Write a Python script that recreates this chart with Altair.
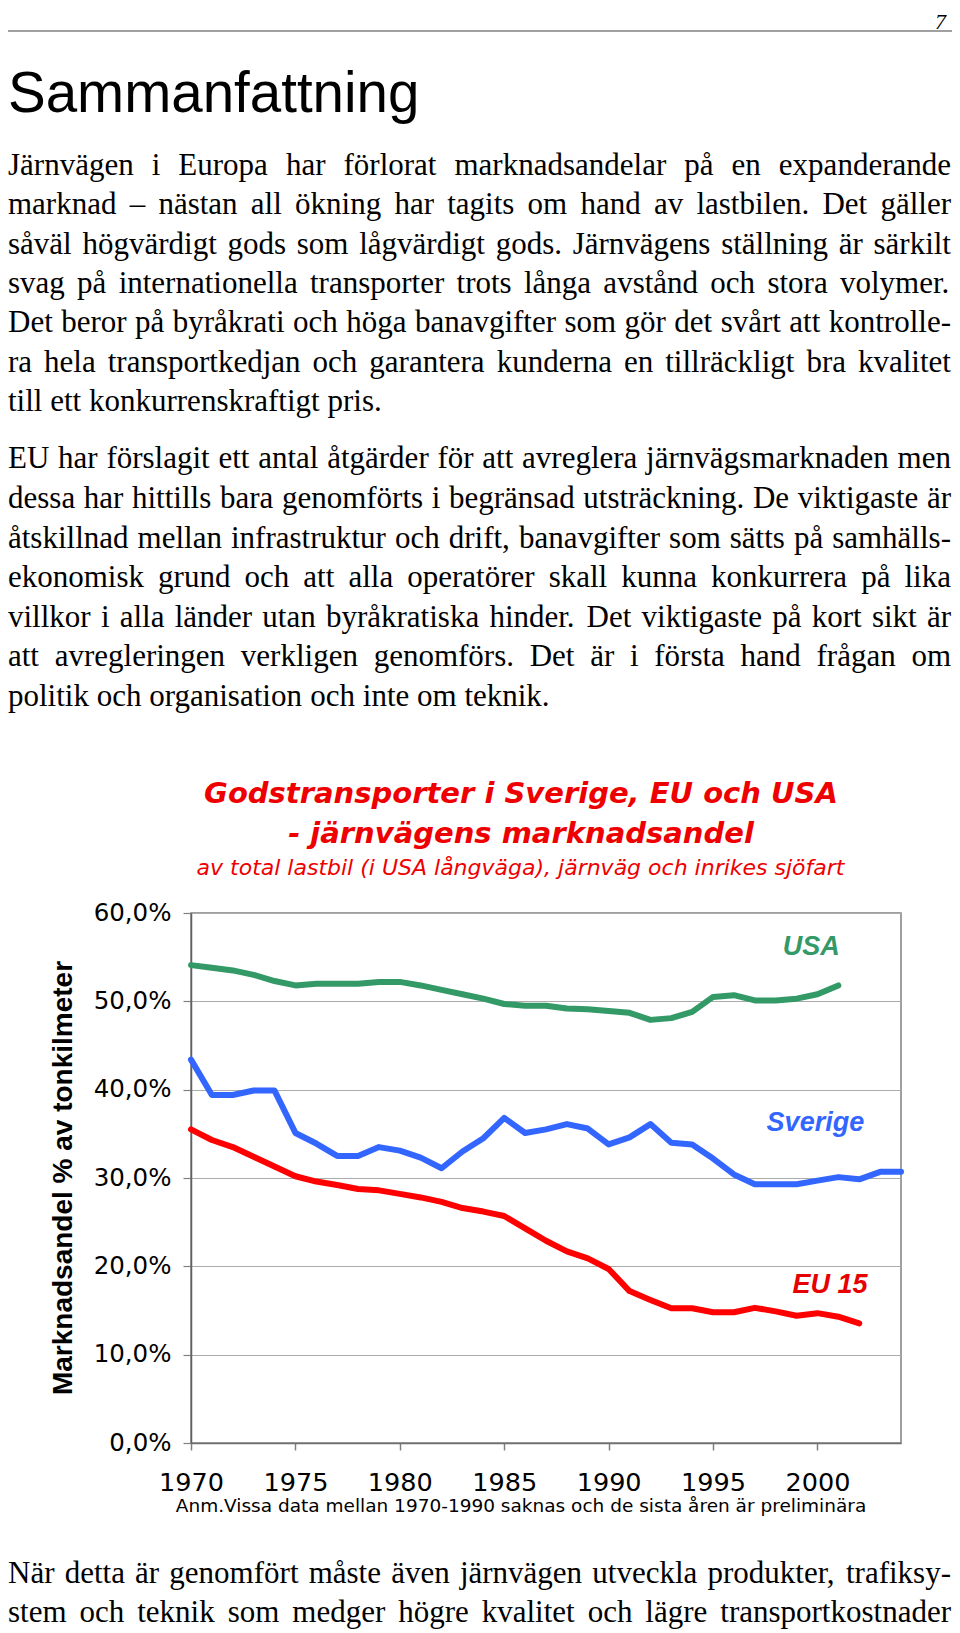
import altair as alt
import pandas as pd

# ---------------- data ----------------
years_usa = list(range(1970, 2002))
usa = [54.1, 53.8, 53.5, 53.0, 52.3, 51.8, 52.0, 52.0, 52.0, 52.2, 52.2, 51.8,
       51.3, 50.8, 50.3, 49.7, 49.5, 49.5, 49.2, 49.1, 48.9, 48.7, 47.9, 48.1,
       48.8, 50.5, 50.7, 50.1, 50.1, 50.3, 50.8, 51.8]

years_se = list(range(1970, 2005))
sverige = [43.4, 39.4, 39.4, 39.9, 39.9, 35.1, 33.9, 32.5, 32.5, 33.5, 33.1, 32.3,
           31.1, 33.0, 34.5, 36.8, 35.1, 35.5, 36.1, 35.6, 33.8, 34.6, 36.1, 34.0,
           33.8, 32.2, 30.4, 29.3, 29.3, 29.3, 29.7, 30.1, 29.85, 30.7, 30.7]

years_eu = list(range(1970, 2003))
eu15 = [35.5, 34.3, 33.5, 32.4, 31.3, 30.2, 29.6, 29.2, 28.75, 28.6, 28.2, 27.8,
        27.3, 26.6, 26.2, 25.7, 24.3, 22.9, 21.7, 20.9, 19.7, 17.2, 16.2, 15.25,
        15.25, 14.8, 14.8, 15.3, 14.9, 14.4, 14.7, 14.3, 13.55]

series_names = ["USA", "Sverige", "EU 15"]
series_colors = ["#339966", "#3366FF", "#FF0000"]
label_colors = ["#339966", "#3366FF", "#E60000"]
label_years = [1999.7, 1999.9, 2000.6]
label_values = [55.25, 35.35, 17.0]

x_ticks = [1970, 1975, 1980, 1985, 1990, 1995, 2000]
y_ticks = [0, 10, 20, 30, 40, 50, 60]

chart_title = ["Godstransporter i Sverige, EU och USA", "- järnvägens marknadsandel"]
chart_subtitle = "av total lastbil (i USA långväga), järnväg och inrikes sjöfart"
y_title = "Marknadsandel % av tonkilmeter"
note = "Anm.Vissa data mellan 1970-1990 saknas och de sista åren är preliminära"
heading = "Sammanfattning"
page_no = "7"

para1 = [
    "Järnvägen i Europa har förlorat marknadsandelar på en expanderande",
    "marknad – nästan all ökning har tagits om hand av lastbilen. Det gäller",
    "såväl högvärdigt gods som lågvärdigt gods. Järnvägens ställning är särkilt",
    "svag på internationella transporter trots långa avstånd och stora volymer.",
    "Det beror på byråkrati och höga banavgifter som gör det svårt att kontrolle-",
    "ra hela transportkedjan och garantera kunderna en tillräckligt bra kvalitet",
    "till ett konkurrenskraftigt pris.",
]
para2 = [
    "EU har förslagit ett antal åtgärder för att avreglera järnvägsmarknaden men",
    "dessa har hittills bara genomförts i begränsad utsträckning. De viktigaste är",
    "åtskillnad mellan infrastruktur och drift, banavgifter som sätts på samhälls-",
    "ekonomisk grund och att alla operatörer skall kunna konkurrera på lika",
    "villkor i alla länder utan byråkratiska hinder. Det viktigaste på kort sikt är",
    "att avregleringen verkligen genomförs. Det är i första hand frågan om",
    "politik och organisation och inte om teknik.",
]
para3 = [
    "När detta är genomfört måste även järnvägen utveckla produkter, trafiksy-",
    "stem och teknik som medger högre kvalitet och lägre transportkostnader",
]

# ---------------- layout ----------------
OX, OY = 191, 913          # page position of the plot origin
PW, PH = 710, 530          # plot area
TEXT_L, TEXT_R = 8, 951    # justified text block
BODY_SIZE = 31

# Times (Liberation Serif) advance widths, 1/1000 em
TIMES = dict(zip("abcdefghijklmnopqrstuvwxyz",
                 [444, 500, 444, 500, 444, 333, 500, 500, 278, 278, 500, 278, 778,
                  500, 500, 500, 500, 333, 389, 278, 500, 500, 722, 500, 500, 444]))
TIMES.update(dict(zip("ABCDEFGHIJKLMNOPQRSTUVWXYZ",
                      [722, 667, 667, 722, 611, 556, 722, 722, 333, 389, 722, 611, 889,
                       722, 722, 556, 722, 667, 556, 611, 722, 722, 944, 722, 722, 611])))
TIMES.update({"å": 444, "ä": 444, "ö": 500, " ": 250, ".": 250, ",": 250,
              "-": 333, "–": 500, "(": 333, ")": 333})


def tw(s):
    return sum(TIMES.get(c, 500) for c in s) * BODY_SIZE / 1000.0


def layout(lines, y0, dy, last_left=True):
    rows = []
    for i, line in enumerate(lines):
        y = y0 + dy * i
        words = line.split(" ")
        widths = [tw(w) for w in words]
        justify = not (last_left and i == len(lines) - 1)
        if justify and len(words) > 1:
            gap = (TEXT_R - TEXT_L - sum(widths)) / (len(words) - 1)
        else:
            gap = tw(" ")
        x = TEXT_L
        for w, wd in zip(words, widths):
            rows.append({"word": w, "px": x - OX, "py": y - OY})
            x += wd + gap
    return rows


word_rows = (layout(para1, 175.0, 39.33)
             + layout(para2, 468.3, 39.6)
             + layout(para3, 1582.7, 39.0, last_left=False))
words_df = pd.DataFrame(word_rows)

rows = []
for name, ys, vs in [("USA", years_usa, usa), ("Sverige", years_se, sverige),
                     ("EU 15", years_eu, eu15)]:
    for yv, v in zip(ys, vs):
        rows.append({"year": yv, "value": v, "series": name})
df = pd.DataFrame(rows)

labels_df = pd.DataFrame({"label": series_names, "lx": label_years,
                          "ly": label_values, "col": label_colors})

xscale = alt.Scale(domain=[1970, 2004], nice=False, zero=False)
yscale = alt.Scale(domain=[0, 60], nice=False, zero=True)

lines = alt.Chart(df).mark_line(strokeWidth=6, strokeJoin="round", strokeCap="round").encode(
    x=alt.X("year:Q", scale=xscale,
            axis=alt.Axis(values=x_ticks, format="d", title=None, grid=False,
                          labelFont="DejaVu Sans", labelFontSize=25.5, labelColor="black",
                          labelBaseline="alphabetic", labelPadding=40, labelFlush=False,
                          labelOverlap=False, tickSize=7, tickColor="#808080",
                          tickWidth=1.5, domainColor="#707070", domainWidth=1.5)),
    y=alt.Y("value:Q", scale=yscale,
            axis=alt.Axis(values=y_ticks, title=None, grid=True, gridColor="#ababab",
                          gridWidth=1, tickSize=8, tickColor="#808080", tickWidth=1.2,
                          labelExpr="replace(format(datum.value, '.1f'), '.', ',') + '%'",
                          labelFont="DejaVu Sans", labelFontSize=24.5, labelColor="black",
                          labelPadding=12, labelFlush=False, labelOverlap=False,
                          domainColor="#606060", domainWidth=1.5)),
    color=alt.Color("series:N", scale=alt.Scale(domain=series_names, range=series_colors),
                    legend=None),
)

series_labels = alt.Chart(labels_df).mark_text(
    font="Liberation Sans", fontSize=27, fontWeight="bold", fontStyle="italic",
    align="center", baseline="alphabetic").encode(
    x=alt.X("lx:Q", scale=xscale, axis=None),
    y=alt.Y("ly:Q", scale=yscale, axis=None),
    text="label:N",
    color=alt.Color("col:N", scale=None),
)

one = pd.DataFrame({"a": [0]})


def txt(s, px, py, **kw):
    return alt.Chart(pd.DataFrame({"t": [s]})).mark_text(**kw).encode(
        text="t:N", x=alt.value(px - OX), y=alt.value(py - OY))


title1 = txt(chart_title[0], 521, 803.3, font="DejaVu Sans", fontSize=29,
             fontWeight="bold", fontStyle="italic", color="#EE0000",
             align="center", baseline="alphabetic")
title2 = txt(chart_title[1], 521, 843.3, font="DejaVu Sans", fontSize=29,
             fontWeight="bold", fontStyle="italic", color="#EE0000",
             align="center", baseline="alphabetic")
subtitle = txt(chart_subtitle, 520.5, 875, font="DejaVu Sans", fontSize=22,
               fontStyle="italic", color="#EE0000", align="center", baseline="alphabetic")
ytitle = txt(y_title, 72, OY + PH / 2, font="Liberation Sans", fontSize=28,
             fontWeight="bold", color="black", align="center", baseline="alphabetic",
             angle=270)
note_t = txt(note, 521, 1511.7, font="DejaVu Sans", fontSize=18.5, color="black",
             align="center", baseline="alphabetic")
head_t = txt(heading, 8, 112, font="Liberation Sans", fontSize=56.5, color="black",
             align="left", baseline="alphabetic")
page_t = txt(page_no, 946, 28.5, font="Liberation Serif", fontSize=22, fontStyle="italic",
             color="black", align="right", baseline="alphabetic")

top_rule = alt.Chart(one).mark_rule(color="#808080", strokeWidth=1.5).encode(
    x=alt.value(5 - OX), x2=alt.value(956 - OX), y=alt.value(31 - OY))

body = alt.Chart(words_df).mark_text(
    font="Liberation Serif", fontSize=BODY_SIZE, color="black",
    align="left", baseline="alphabetic").encode(
    x=alt.X("px:Q", scale=None, axis=None),
    y=alt.Y("py:Q", scale=None, axis=None),
    text="word:N",
)

chart = alt.layer(
    lines, series_labels, title1, title2, subtitle, ytitle, note_t,
    head_t, page_t, top_rule, body
).resolve_scale(x="independent", y="independent", color="independent").properties(
    width=PW, height=PH,
    padding={"left": OX - 8, "top": OY - 8, "right": 944 - (OX - 8) - PW,
             "bottom": 1625 - (OY - 8) - PH},
    autosize=alt.AutoSizeParams(type="none"),
    background="white",
).configure_view(stroke="#808080", strokeWidth=1.5)

chart.save("out.html", embed_options={"renderer": "svg", "actions": False})
